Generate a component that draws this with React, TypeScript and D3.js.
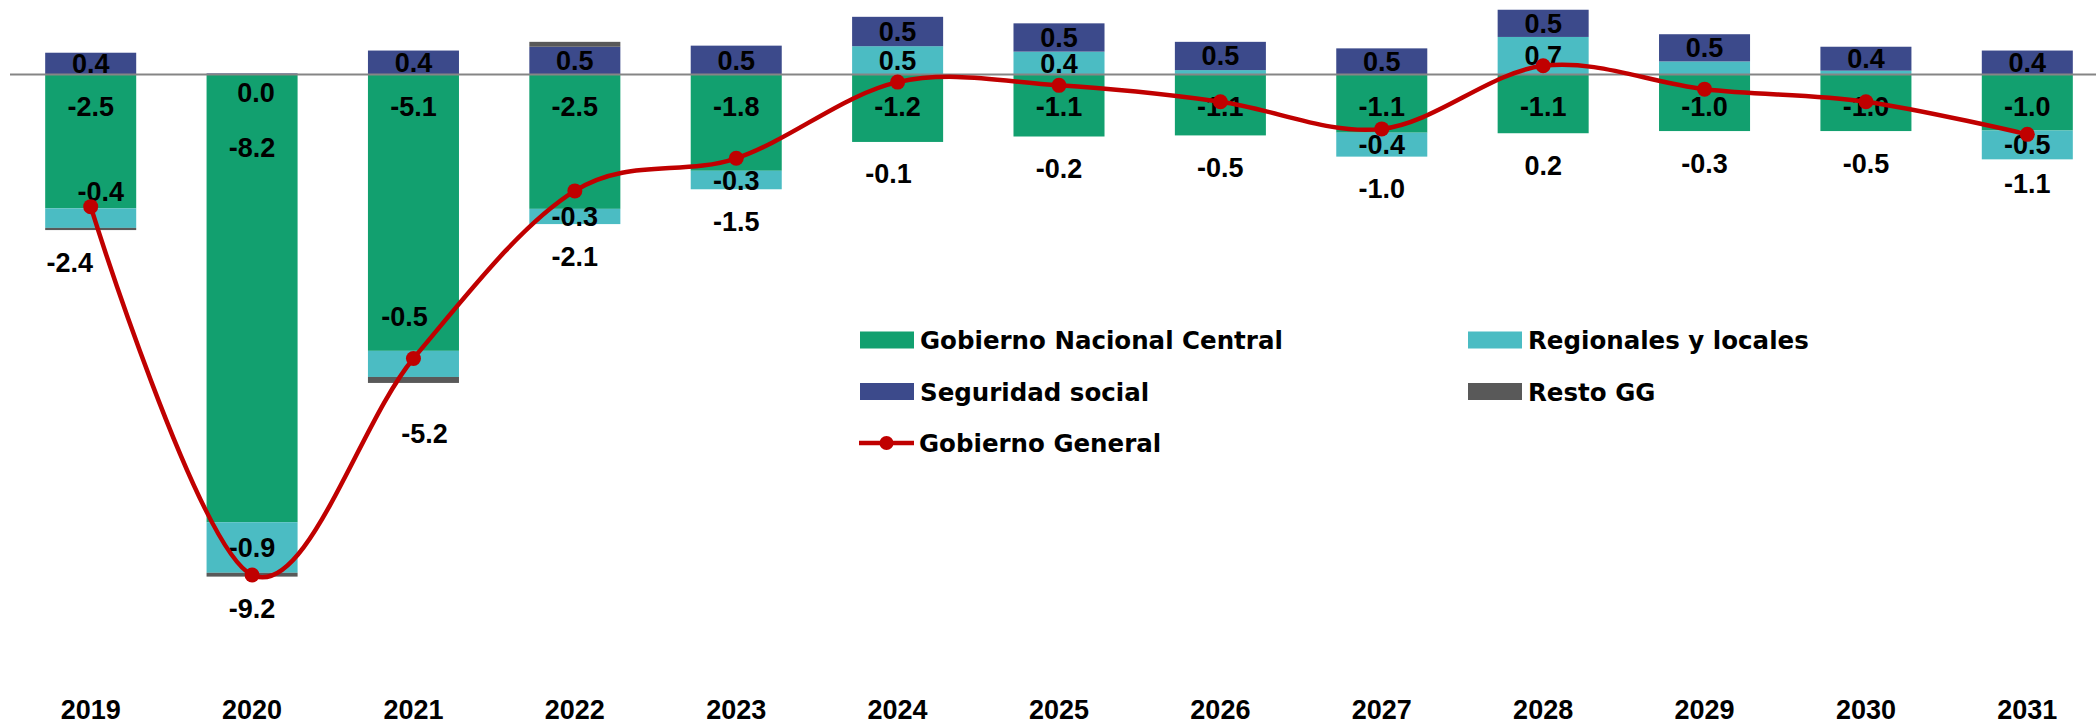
import React from 'react';
import * as d3 from 'd3';

const years = ['2019', '2020', '2021', '2022', '2023', '2024', '2025', '2026', '2027', '2028', '2029', '2030', '2031'];
const gobiernoNacionalCentral = [-2.46, -8.23, -5.08, -2.47, -1.77, -1.24, -1.14, -1.12, -1.07, -1.08, -1.04, -1.04, -1.03];
const regionalesLocales = [-0.36, -0.93, -0.48, -0.28, -0.34, 0.52, 0.42, 0.08, -0.44, 0.69, 0.24, 0.07, -0.53];
const seguridadSocial = [0.4, 0.02, 0.44, 0.51, 0.53, 0.54, 0.52, 0.52, 0.48, 0.5, 0.5, 0.44, 0.44];
const restoGG = [-0.04, -0.07, -0.11, 0.09, 0, 0, 0, 0, 0, 0, 0, 0, 0];
const gobiernoGeneral = [-2.43, -9.2, -5.22, -2.14, -1.54, -0.14, -0.2, -0.5, -1.0, 0.16, -0.27, -0.5, -1.1];

const seriesKeys = ['gnc', 'reg', 'ss', 'resto'];
const seriesNames = ['Gobierno Nacional Central', 'Regionales y locales', 'Seguridad social', 'Resto GG'];
const lineName = 'Gobierno General';

const COLORS: Record<string, string> = {
  gnc: '#12A06F',
  reg: '#4BBCC3',
  ss: '#3C4A8B',
  resto: '#595959',
};
const RED = '#C00000';

const W = 2096;
const H = 724;
const NUM_FONT = '"Liberation Sans", Arial, sans-serif';
const LEG_FONT = '"DejaVu Sans", sans-serif';

// label nudges (presentation only)
const totalNudge: Record<string, [number, number]> = {
  '2019': [-21, 0],
  '2021': [11, 19],
  '2024': [-9, 0],
  '2031': [0, -8],
};
const regNudge: Record<string, [number, number]> = {
  '2019': [10, -27],
  '2021': [-9, -47],
};

const fmtLocale = d3.formatLocale({ decimal: '.', thousands: ',', grouping: [3], currency: ['', ''], minus: '-' });
const fmt = fmtLocale.format('.1f');

export default function App() {
  const rows = years.map((y, i) => ({
    year: y,
    gnc: gobiernoNacionalCentral[i],
    reg: regionalesLocales[i],
    ss: seguridadSocial[i],
    resto: restoGG[i],
    total: gobiernoGeneral[i],
  }));

  const x = d3.scaleBand<string>().domain(years).range([10, 2108]).paddingInner(0.436).paddingOuter(0.218);
  const y = d3.scaleLinear().domain([-12, 1.2]).range([727.3, 9.2]);
  const bw = x.bandwidth();
  const cx = (yr: string) => (x(yr) as number) + bw / 2;

  const stack = d3.stack<any>().keys(seriesKeys).offset(d3.stackOffsetDiverging);
  const stacked = stack(rows);

  const y0 = y(0);

  const line = d3
    .line<any>()
    .x((d) => cx(d.year))
    .y((d) => y(d.total))
    .curve(d3.curveCardinal.tension(0));

  const bottoms = rows.map((r, i) => {
    let b = 0;
    stacked.forEach((s) => {
      b = Math.min(b, s[i][0], s[i][1]);
    });
    return b;
  });

  const labels: any[] = [];
  rows.forEach((r, i) => {
    const c = cx(r.year);
    const ssSeg = stacked[2][i];
    if (Math.abs(r.ss) < 0.05) {
      labels.push({ x: c + 4, y: y0 + 18, t: fmt(r.ss) });
    } else {
      labels.push({ x: c, y: (y(ssSeg[0]) + y(ssSeg[1])) / 2, t: fmt(r.ss) });
    }
    labels.push({ x: c, y: y0 + (Math.abs(r.ss) < 0.05 ? 73 : 32), t: fmt(r.gnc) });
    if (Math.abs(r.reg) >= 0.26) {
      const seg = stacked[1][i];
      const n = regNudge[r.year] || [0, 0];
      labels.push({ x: c + n[0], y: (y(seg[0]) + y(seg[1])) / 2 + n[1], t: fmt(r.reg) });
    }
    const tn = totalNudge[r.year] || [0, 0];
    labels.push({ x: c + tn[0], y: y(bottoms[i]) + 32 + tn[1], t: fmt(r.total) });
  });

  const legendItems = [
    { key: 'gnc', name: seriesNames[0], x: 860, row: 0 },
    { key: 'reg', name: seriesNames[1], x: 1468, row: 0 },
    { key: 'ss', name: seriesNames[2], x: 860, row: 1 },
    { key: 'resto', name: seriesNames[3], x: 1468, row: 1 },
  ];
  const legRowY = (row: number) => 340 + row * 51.5;

  return (
    <svg
      width={W}
      height={H}
      style={{ position: 'absolute', left: 0, top: 0, background: '#fff' }}
      xmlns="http://www.w3.org/2000/svg"
    >
      <rect x={0} y={0} width={W} height={H} fill="#fff" />
      {stacked.map((s) => (
        <g key={s.key} fill={COLORS[s.key]}>
          {s.map((d, i) => {
            const top = Math.min(y(d[0]), y(d[1]));
            const h = Math.abs(y(d[0]) - y(d[1]));
            if (h <= 0) return null;
            return <rect key={i} x={x(years[i])} y={top} width={bw} height={h} />;
          })}
        </g>
      ))}
      <line x1={10} x2={W} y1={y0} y2={y0} stroke="#858585" strokeWidth={2} />
      <g fontFamily={NUM_FONT} fontWeight="bold" fontSize={27} fill="#000" textAnchor="middle">
        {labels.map((l, i) => (
          <text key={i} x={l.x} y={l.y + 9.5}>
            {l.t}
          </text>
        ))}
      </g>
      <path d={line(rows) as string} fill="none" stroke={RED} strokeWidth={4.5} />
      {rows.map((r) => (
        <circle key={r.year} cx={cx(r.year)} cy={y(r.total)} r={7.5} fill={RED} />
      ))}
      <g fontFamily={NUM_FONT} fontWeight="bold" fontSize={27} fill="#000" textAnchor="middle">
        {years.map((yr) => (
          <text key={yr} x={cx(yr)} y={719}>
            {yr}
          </text>
        ))}
      </g>
      <g fontFamily={LEG_FONT} fontWeight="bold" fontSize={24.5} fill="#000">
        {legendItems.map((it) => (
          <g key={it.key}>
            <rect x={it.x} y={legRowY(it.row) - 8.5} width={54} height={17} fill={COLORS[it.key]} />
            <text x={it.x + 60} y={legRowY(it.row) + 9}>
              {it.name}
            </text>
          </g>
        ))}
        <g>
          <line x1={859} x2={914} y1={legRowY(2)} y2={legRowY(2)} stroke={RED} strokeWidth={4.5} />
          <circle cx={886.5} cy={legRowY(2)} r={7} fill={RED} />
          <text x={919} y={legRowY(2) + 9}>
            {lineName}
          </text>
        </g>
      </g>
    </svg>
  );
}
